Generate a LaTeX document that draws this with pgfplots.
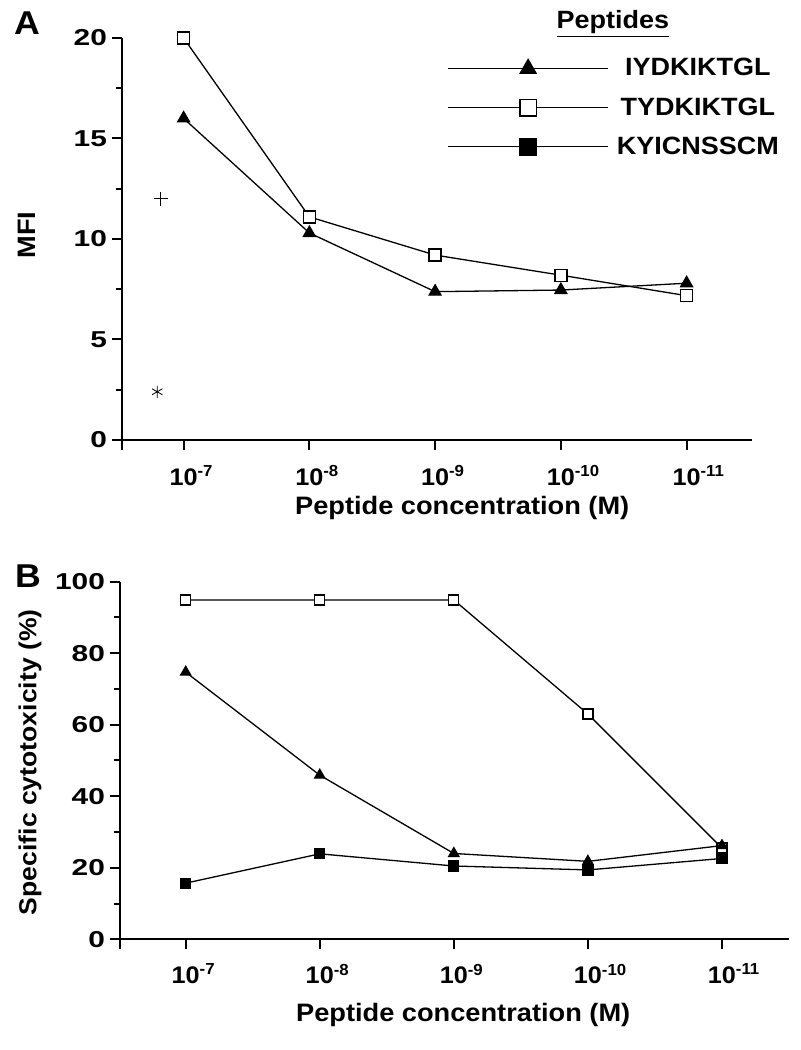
\documentclass[border=0pt]{standalone}
\usepackage{pgfplots}
\pgfplotsset{compat=1.18}
\usepackage{fontspec}
\setmainfont{Liberation Sans}[FakeStretch=1.08]
\newfontfamily\ywide{Liberation Sans}[FakeStretch=1.3]
\newfontfamily\xwide{Liberation Sans}[FakeStretch=1.05]

\newcommand\ytfont{\ywide\fontsize{11.5}{12}\selectfont\bfseries}
\newcommand\xtfont{\xwide\fontsize{12}{13}\selectfont\bfseries}
\newcommand\lfont{\fontsize{12.6}{14}\selectfont\bfseries}
\newcommand\expo[1]{\rlap{\textsuperscript{#1}}}

\pgfplotsset{
  panel/.style={
    scale only axis,
    clip=false,
    axis lines*=left,
    axis line style={line width=1pt,-},
    tick align=outside,
    major tick length=5pt,
    minor tick length=3pt,
    tick style={black, line width=1pt},
    minor y tick num=1,
    xmin=-0.49, ymin=0,
    xtick={-0.49,0,1,2,3,4},
    xticklabels={{},10\expo{-7},10\expo{-8},10\expo{-9},10\expo{-10},10\expo{-11}},
    xticklabel style={font=\xtfont},
    yticklabel style={font=\ytfont, xshift=1pt},
    /pgf/number format/assume math mode=true,
    label style={font=\lfont},
  },
  tri/.style={black, line width=0.65pt, mark=triangle*, mark size=3.4pt, mark options={fill=black}},
  osq/.style={black, line width=0.65pt, mark=square*, mark size=3pt, mark options={fill=white}},
  fsq/.style={black, line width=0.65pt, mark=square*, mark size=3pt, mark options={fill=black}},
}

\begin{document}
\begin{tikzpicture}
\useasboundingbox (0,0) rectangle (400.5pt,525pt);

% panel A
\begin{axis}[panel,
  at={(61pt,305pt)}, anchor=south west,
  width=315pt, height=201pt,
  xmax=4.52, ymax=20,
  ytick={0,5,10,15,20},
  xticklabel style={yshift=-4.3pt},
  ylabel={MFI},
  ylabel style={at={(axis description cs:-0.1508,0.51)}, anchor=center},
  xlabel={Peptide concentration (M)},
  xlabel style={at={(axis description cs:0.54,-0.169)}, anchor=center},
  legend entries={IYDKIKTGL,TYDKIKTGL,KYICNSSCM},
  legend image code/.code={
    \draw[#1, every mark/.append style={scale=1.35}, mark repeat=2, mark phase=2]
      plot coordinates {(0pt,0pt) (40pt,0pt) (80pt,0pt)};},
  legend style={at={(axis description cs:0.516,0.95)}, anchor=north west,
    draw=none, fill=none, inner sep=0pt, row sep=9.3pt, column sep=4pt,
    font=\fontsize{12.5}{13}\selectfont\bfseries,
    nodes={inner sep=0pt}},
]
\addplot[tri] coordinates {(0,16.0) (1,10.3) (2,7.38) (3,7.46) (4,7.8)};
\addplot[osq] coordinates {(0,20.0) (1,11.1) (2,9.2) (3,8.2) (4,7.18)};
\addlegendimage{fsq}
\addplot[forget plot, only marks, mark=+, mark size=3.5pt, line width=0.5pt] coordinates {(-0.18,12.0)};
\addplot[forget plot, only marks, mark=asterisk, mark size=3pt, line width=0.4pt] coordinates {(-0.21,2.4)};
\node[font=\fontsize{12.5}{13}\selectfont\bfseries] at (axis description cs:0.779,1.035) {\underline{Peptides}};
\end{axis}

% panel B
\begin{axis}[panel,
  at={(60pt,55.35pt)}, anchor=south west,
  width=334.5pt, height=178.8pt,
  xmax=4.5, ymax=100,
  ytick={0,20,40,60,80,100},
  xticklabel style={yshift=-3.8pt},
  ylabel={Specific cytotoxicity (\%)},
  ylabel style={at={(axis description cs:-0.1345,0.495)}, anchor=center, font=\fontsize{12.3}{13}\selectfont\bfseries},
  xlabel={Peptide concentration (M)},
  xlabel style={at={(axis description cs:0.513,-0.212)}, anchor=center},
  tri/.append style={mark size=2.9pt},
  osq/.append style={mark size=2.5pt},
  fsq/.append style={mark size=2.5pt},
]
\addplot[osq] coordinates {(0,94.9) (1,94.9) (2,94.9) (3,63) (4,25.5)};
\addplot[tri] coordinates {(0,74.7) (1,45.9) (2,24.0) (3,21.8) (4,26.2)};
\addplot[fsq] coordinates {(0,15.7) (1,23.9) (2,20.5) (3,19.4) (4,22.6)};
\end{axis}

\node[font=\fontsize{16.5}{17}\selectfont\bfseries] at (13.5pt,513.5pt) {A};
\node[font=\fontsize{16.5}{17}\selectfont\bfseries] at (14pt,237pt) {B};
\end{tikzpicture}
\end{document}
